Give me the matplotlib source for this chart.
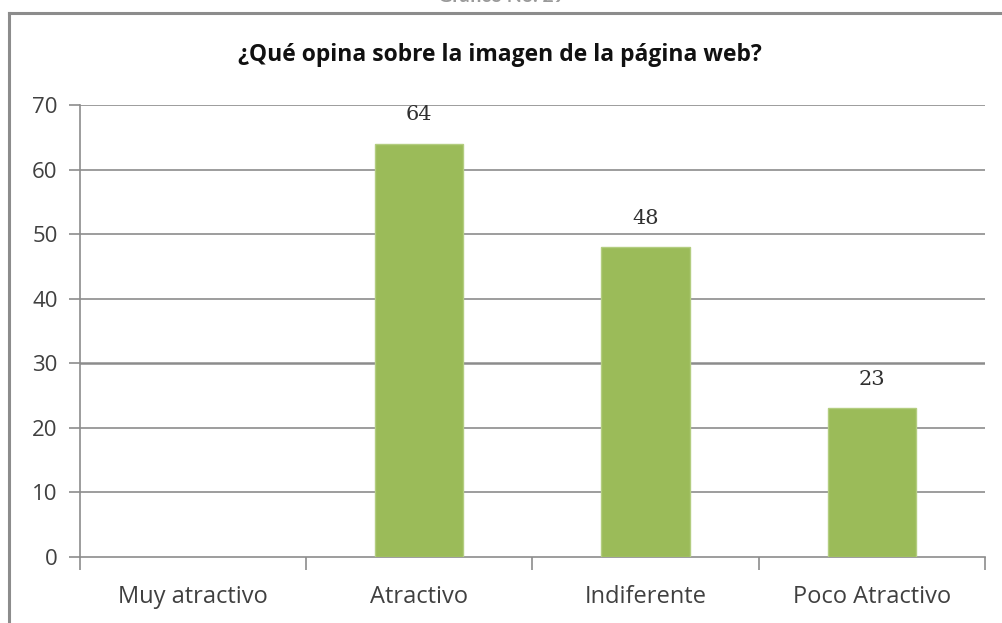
import matplotlib
matplotlib.use("Agg")
import matplotlib.pyplot as plt
from matplotlib.lines import Line2D

categories = ["Muy atractivo", "Atractivo", "Indiferente", "Poco Atractivo"]
values = [0, 64, 48, 23]
labels = ["", "64", "48", "23"]
yticks = [0, 10, 20, 30, 40, 50, 60, 70]
title = "¿Qué opina sobre la imagen de la página web?"
top_caption = "Gráfico No. 29"

fig = plt.figure(figsize=(10.02, 6.23), dpi=100)
fig.patch.set_facecolor("white")

# outer frame
border = "#8c8c8c"
fig.add_artist(Line2D([0.0085, 1.0], [0.9795, 0.9795], transform=fig.transFigure, color=border, lw=2.2))
fig.add_artist(Line2D([0.0085, 0.0085], [0.0, 0.9795], transform=fig.transFigure, color=border, lw=2.2))

# caption at very top, clipped by the picture edge as in the reference
fig.text(0.5, 0.9975, top_caption, ha="center", va="baseline", fontsize=14, fontweight="bold",
         color="#9a9a9a", family="Lato")

ax = fig.add_axes([0.0798, 0.106, 0.9032, 0.7255])
x = list(range(len(categories)))
ax.bar(x, values, width=0.39, color="#9bbb59", edgecolor="#b3cd80",
       linewidth=[0 if v == 0 else 1.0 for v in values], zorder=3)

ax.set_xlim(-0.5, len(categories) - 0.5)
ax.set_ylim(0, 70)
ax.set_yticks(yticks)
ax.set_yticklabels([str(v) for v in yticks], fontsize=16, color="#404040", family="Open Sans")
ax.set_xticks([i - 0.5 for i in range(len(categories) + 1)])
ax.set_xticklabels([])
ax.set_xticks(x, minor=True)
ax.set_xticklabels(categories, minor=True, fontsize=17, color="#404040", family="Open Sans")
ax.tick_params(axis="x", which="minor", length=0, pad=20)
ax.tick_params(axis="x", which="major", length=9, color="#8c8c8c", width=1.2, direction="out")
ax.tick_params(axis="y", length=8, color="#8c8c8c", width=1.2, direction="out", pad=8)

for yv in yticks[1:]:
    ax.axhline(yv, color="#8c8c8c", lw=1.8 if yv == 30 else 1.2, zorder=1)

for s in ["top", "right"]:
    ax.spines[s].set_visible(False)
ax.spines["left"].set_color("#8c8c8c")
ax.spines["left"].set_linewidth(1.2)
ax.spines["bottom"].set_color("#8c8c8c")
ax.spines["bottom"].set_linewidth(1.2)

for xi, v, lab in zip(x, values, labels):
    if lab:
        ax.text(xi, v + 3.0, lab, ha="center", va="bottom", fontsize=15, color="#303030",
                family="DejaVu Serif")

fig.text(0.499, 0.911, title, ha="center", va="center", fontsize=16.5, fontweight="bold",
         color="#111111", family="Open Sans")

fig.savefig("out.png", dpi=100, facecolor="white")
